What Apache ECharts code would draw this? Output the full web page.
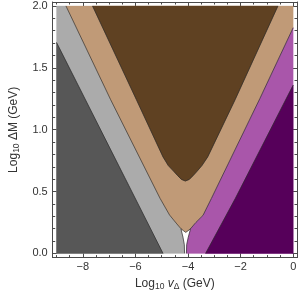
<!DOCTYPE html>
<html><head><meta charset="utf-8">
<script src="https://cdn.jsdelivr.net/npm/echarts@6/dist/echarts.min.js"></script>
<style>html,body{margin:0;padding:0;background:#fff}#c{width:300px;height:296px}</style>
</head><body><div id="c"></div>
<script>
// Tick values
const xTicks = [-8, -6, -4, -2, 0];
const yTicks = [0, 0.5, 1, 1.5, 2];
const xMinor = [-9, -8.5, -7.5, -7, -6.5, -5.5, -5, -4.5, -3.5, -3, -2.5, -1.5, -1, -0.5];
const yMinor = [0.1, 0.2, 0.3, 0.4, 0.6, 0.7, 0.8, 0.9, 1.1, 1.2, 1.3, 1.4, 1.6, 1.7, 1.8, 1.9];

// Region boundaries (log10 vΔ, log10 ΔM)
const edgeDark = [[-9, 1.705], [-4.95, 0]];
const edgeGrayTan = [[-8.64, 2], [-6.94, 1.242], [-5.06, 0.444], [-4.7, 0.31], [-4.45, 0.245], [-4.27, 0.2]];
const edgeTip = [[-4.27, 0.2], [-4.17, 0.183], [-4.085, 0.17], [-4.0, 0.183], [-3.9, 0.2]];
const edgeTanMagenta = [[-3.9, 0.2], [-3.7, 0.25], [-3.43, 0.307], [-3.11, 0.444], [-1.27, 1.25], [0, 1.824]];
const edgeSpikeLeft = [[-4.27, 0.2], [-4.19, 0.13], [-4.14, 0.07], [-4.13, 0]];
const edgeSpikeRight = [[-3.9, 0.2], [-3.99, 0.13], [-4.05, 0.07], [-4.06, 0]];
const edgeBrown = [[-7.63, 2], [-5.96, 1.242], [-4.95, 0.78], [-4.75, 0.71], [-4.55, 0.665], [-4.4, 0.63],
                   [-4.25, 0.598], [-4.1, 0.585], [-3.95, 0.598], [-3.8, 0.63], [-3.65, 0.665],
                   [-3.47, 0.71], [-3.25, 0.78], [-2.21, 1.242], [-0.58, 2]];
const edgeMagPurple = [[-3.33, 0], [-2.2, 0.444], [0, 1.36]];

const colors = {
  darkGray: '#575757', lightGray: '#ababab', tan: '#c09a77',
  brown: '#5f4122', magenta: '#a956aa', purple: '#56005a'
};

const rev = a => a.slice().reverse();
const polyLightGray = [[-9, 0], [-9, 2]].concat(edgeGrayTan, edgeSpikeLeft.slice(1));
const polyDarkGray = [[-9, 0]].concat(edgeDark);
const polyTan = [[0, 2]].concat(rev(edgeTanMagenta), rev(edgeTip).slice(1), rev(edgeGrayTan).slice(1));
const polyBrown = edgeBrown;
const polyMagenta = [[0, 0]].concat(rev(edgeTanMagenta), edgeSpikeRight.slice(1));
const polyPurple = edgeMagPurple.concat([[0, 0]]);

const regions = [
  [polyLightGray, colors.lightGray], [polyDarkGray, colors.darkGray], [polyTan, colors.tan],
  [polyBrown, colors.brown], [polyMagenta, colors.magenta], [polyPurple, colors.purple]
];
const edges = [edgeDark, edgeGrayTan, edgeTip, edgeTanMagenta, edgeSpikeLeft, edgeSpikeRight, edgeBrown, edgeMagPurple];

const FONT = 'Liberation Sans';
const frame = '#4a4a4a';
const txt = '#333';
const X0 = -9.145, X1 = 0.145, Y0 = -0.034, Y1 = 2.032;

const series = [];
regions.forEach(([pts, col], k) => {
  series.push({
    type: 'custom', clip: true, silent: true, z: 2 + k,
    data: [pts[0]],
    renderItem: (params, api) => ({
      type: 'polygon',
      shape: { points: pts.map(p => api.coord(p)) },
      style: { fill: col, stroke: col, lineWidth: 0.3 }
    })
  });
});
edges.forEach(e => {
  series.push({
    type: 'line', data: e, symbol: 'none', silent: true, z: 20, clip: true,
    lineStyle: { color: '#262626', width: 0.8, opacity: 0.85 }
  });
});

const rich = {
  a: { fontFamily: FONT, fontSize: 12, color: txt, lineHeight: 15 },
  i: { fontFamily: FONT, fontSize: 12, color: txt, lineHeight: 15, fontStyle: 'italic' },
  s: { fontFamily: FONT, fontSize: 8.5, color: txt, lineHeight: 8, verticalAlign: 'bottom' }
};

function xAxisDef(pos, vals, len, withLabel) {
  return {
    type: 'value', min: X0, max: X1, position: pos,
    axisLine: { show: withLabel !== null, onZero: false, lineStyle: { color: frame, width: 1 } },
    axisTick: { show: true, inside: true, length: len, customValues: vals, lineStyle: { color: frame, width: 1 } },
    axisLabel: withLabel ? {
      show: true, customValues: xTicks, margin: 4, fontSize: 11, fontFamily: FONT, color: txt,
      formatter: v => (v === 0 ? '0' : (v < 0 ? '\u2212' + Math.abs(v) : String(v)))
    } : { show: false },
    splitLine: { show: false }
  };
}
function yAxisDef(pos, vals, len, withLabel) {
  return {
    type: 'value', min: Y0, max: Y1, position: pos,
    axisLine: { show: withLabel !== null, onZero: false, lineStyle: { color: frame, width: 1 } },
    axisTick: { show: true, inside: true, length: len, customValues: vals, lineStyle: { color: frame, width: 1 } },
    axisLabel: withLabel ? {
      show: true, customValues: yTicks, margin: 5, fontSize: 11, fontFamily: FONT, color: txt,
      formatter: v => v.toFixed(1)
    } : { show: false },
    splitLine: { show: false }
  };
}

const xMain = xAxisDef('bottom', xTicks, 4.5, true);
xMain.name = '{a|Log}{s|10}{a| }{i|v}{s|\u0394}{a| (GeV)}';
xMain.nameLocation = 'middle';
xMain.nameGap = 17;
xMain.nameTextStyle = { rich: rich };
const yMain = yAxisDef('left', yTicks, 4.5, true);
yMain.name = '{a|Log}{s|10}{a| \u0394M (GeV)}';
yMain.nameLocation = 'middle';
yMain.nameGap = 25;
yMain.nameTextStyle = { rich: rich };

const option = {
  animation: false,
  grid: { left: 40, top: 2, width: 257, height: 259, containLabel: false },
  xAxis: [xMain, xAxisDef('bottom', xMinor, 2.5, null), xAxisDef('top', xTicks, 4.5, false), xAxisDef('top', xMinor, 2.5, null)],
  yAxis: [yMain, yAxisDef('left', yMinor, 2.5, null), yAxisDef('right', yTicks, 4.5, false), yAxisDef('right', yMinor, 2.5, null)],
  series: series
};
echarts.init(document.getElementById('c'), null, { renderer: 'canvas' }).setOption(option);
</script>
</body></html>
